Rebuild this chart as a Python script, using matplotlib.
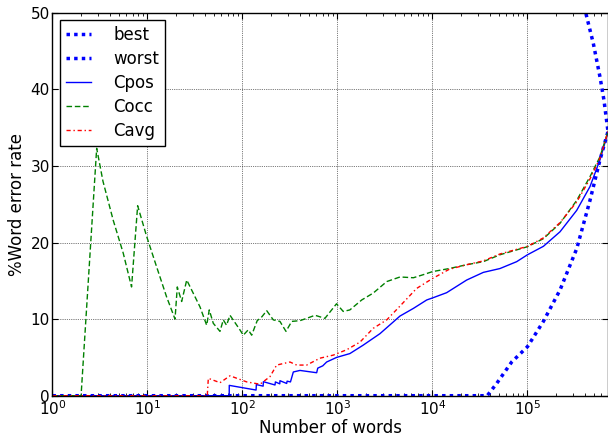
import matplotlib
matplotlib.use("Agg")
import matplotlib.pyplot as plt
from matplotlib.ticker import LogLocator

plt.rcParams['font.family'] = ['DejaVu Sans']
plt.rcParams['mathtext.default'] = 'regular'
plt.rcParams['mathtext.fontset'] = 'dejavusans'

# ---- data ----
best_x = [1, 3.77e4, 4.74e4, 6.82e4, 1.0e5, 1.47e5, 2.2e5, 3.3e5, 4.55e5, 5.8e5, 7.04e5]
best_y = [0, 0, 1.6, 4.4, 6.4, 9.7, 13.8, 19.2, 25.5, 30.8, 34.5]

worst_x = [3.74e5, 4.1e5, 4.93e5, 5.8e5, 6.38e5, 7.04e5]
worst_y = [52.0, 50.0, 46.0, 41.6, 38.6, 34.5]

cpos_x = [1, 72.5, 72.6, 139, 140, 165, 166, 220, 222, 247, 248, 292, 295, 320, 343,
          403, 604, 620, 700, 769, 979, 1350, 1864, 2800, 4550, 6300, 8700,
          1.02e4, 1.41e4, 2.29e4, 3.43e4, 5.13e4, 7.7e4, 1.0e5, 1.47e5, 2.2e5,
          3.3e5, 4.55e5, 5.8e5, 7.04e5]
cpos_y = [0, 0, 1.35, 0.74, 1.45, 1.25, 1.83, 1.4, 1.8, 1.55, 1.96, 1.6, 1.9, 1.8, 3.1,
          3.3, 3.0, 3.6, 3.9, 4.4, 5.0, 5.5, 6.6, 8.1, 10.4, 11.4, 12.5,
          12.8, 13.45, 15.1, 16.1, 16.6, 17.5, 18.4, 19.5, 21.4,
          24.2, 27.3, 30.8, 34.4]

cocc_x = [1, 2, 2.92, 3.4, 4.36, 5.56, 6.8, 7.88, 9.8, 12.5, 15.9, 19.5, 20.6, 22.9,
          25.9, 35.7, 42, 44.7, 49.3, 58, 62.8, 68, 73.9, 94, 102, 115, 125,
          135, 143, 160, 180, 211, 248, 287, 330, 403, 474, 580, 738, 977,
          1150, 1350, 1800, 2380, 3300, 4550, 6300, 8000, 1.0e4, 1.5e4, 2.29e4,
          3.43e4, 5.13e4, 1.0e5, 1.47e5, 2.2e5, 3.3e5, 4.55e5, 5.8e5, 7.04e5]
cocc_y = [0, 0, 32.3, 28.0, 22.9, 18.6, 14.2, 24.8, 20.8, 16.8, 12.9, 10.0, 14.2, 12.3,
          15.1, 11.6, 9.2, 11.2, 9.45, 8.4, 9.9, 9.2, 10.5, 8.6, 7.9, 8.6, 7.9,
          9.0, 9.8, 10.3, 11.1, 9.9, 9.7, 8.4, 9.7, 9.8, 10.1, 10.5, 10.1, 12.0,
          11.0, 11.2, 12.5, 13.4, 14.9, 15.5, 15.4, 15.8, 16.2, 16.6, 17.1,
          17.5, 18.4, 19.45, 20.5, 22.5, 25.5, 28.6, 31.2, 34.5]

cavg_x = [1, 42.6, 43.7, 58, 73.9, 111, 153, 195, 229, 316, 372, 474, 654, 903,
          1250, 1726, 2380, 3300, 4550, 6800, 1.0e4, 1.5e4, 2.29e4, 3.43e4,
          5.13e4, 1.0e5, 1.47e5, 2.2e5, 3.3e5, 4.55e5, 5.8e5, 7.04e5]
cavg_y = [0, 0, 2.27, 1.7, 2.6, 1.8, 1.5, 2.5, 4.0, 4.4, 4.0, 4.0, 4.9, 5.3,
          6.0, 7.0, 8.8, 9.9, 11.7, 14.0, 15.3, 16.5, 17.1, 17.6,
          18.5, 19.5, 20.6, 22.6, 25.3, 28.3, 31.0, 34.5]

x_ticks = [1, 10, 100, 1000, 10000, 100000]
y_ticks = [0, 10, 20, 30, 40, 50]

fig = plt.figure(figsize=(6.08, 4.36), dpi=100)
ax = fig.add_axes([0.0863, 0.0924, 0.9137, 0.8785])

ax.plot(best_x, best_y, color='b', lw=2.5, linestyle=(0, (1, 1.2)), label='best')
ax.plot(worst_x, worst_y, color='b', lw=2.5, linestyle=(0, (1, 1.2)), label='worst')
ax.plot(cpos_x, cpos_y, color='b', lw=1.0, linestyle='-', label='Cpos')
ax.plot(cocc_x, cocc_y, color='g', lw=1.0, linestyle=(0, (4, 2)), label='Cocc')
ax.plot(cavg_x, cavg_y, color='r', lw=1.0, linestyle=(0, (3, 2, 1, 2)), label='Cavg')

ax.set_xscale('log')
ax.set_xlim(1, 7.04e5)
ax.set_ylim(0, 50)
ax.set_xticks(x_ticks)
ax.set_yticks(y_ticks)
ax.xaxis.set_minor_locator(LogLocator(base=10, subs=range(2, 10), numticks=20))

ax.grid(True, which='major', color='black', linestyle=':', linewidth=0.5)
ax.tick_params(which='both', direction='in', top=True, right=True, labelsize=11)
ax.tick_params(which='major', length=4, width=0.8)
ax.tick_params(which='minor', length=2, width=0.6)
ax.tick_params(axis='x', which='major', pad=2.5)
ax.tick_params(axis='y', which='major', pad=2)
for s in ax.spines.values():
    s.set_linewidth(1.0)

ax.set_xlabel('Number of words', fontsize=12, labelpad=1)
ax.set_ylabel('%Word error rate', fontsize=12, labelpad=3)

leg = ax.legend(loc='upper left', fontsize=12, fancybox=False, framealpha=1,
                edgecolor='black', handlelength=1.5, handletextpad=1.35,
                labelspacing=0.36, borderaxespad=0.45, borderpad=0.35)
leg.get_frame().set_linewidth(1.0)

fig.savefig('out.png', dpi=100)
